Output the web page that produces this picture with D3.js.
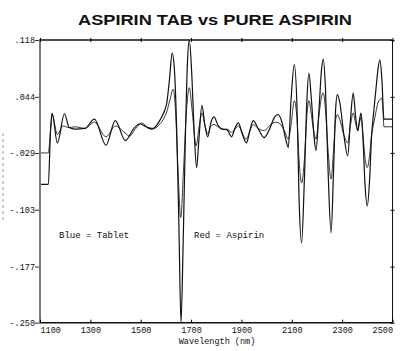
<!DOCTYPE html>
<meta charset="utf-8">
<script src="https://d3js.org/d3.v7.min.js"></script>
<style>
  body { margin: 0; background: #fff; }
  text { fill: #111; }
</style>
<div id="chart"></div>
<script>

  // wavelength (nm) and second-derivative values
  const aspirinNm = [1100, 1133, 1142, 1148, 1169, 1197, 1216, 1239, 1279, 1316, 1362, 1399, 1439, 1473,
    1497, 1521, 1545, 1561, 1577, 1592, 1603, 1614, 1625, 1634, 1644, 1652, 1660, 1668, 1678, 1686, 1693,
    1702, 1712, 1722, 1731, 1743, 1755, 1766, 1779, 1791, 1807, 1823, 1843, 1861, 1874, 1888, 1902, 1920,
    1934, 1947, 1966, 1990, 2013, 2029, 2045, 2061, 2075, 2086, 2097, 2110, 2121, 2129, 2139, 2150, 2160,
    2168, 2178, 2188, 2196, 2208, 2218, 2225, 2234, 2244, 2256, 2266, 2274, 2281, 2291, 2307, 2322, 2333,
    2344, 2353, 2362, 2369, 2375, 2383, 2391, 2400, 2409, 2417, 2424, 2434, 2442, 2450, 2458, 2466, 2500];
  const aspirinVal = [-0.070, -0.070, 0.001, 0.023, -0.016, 0.022, 0.004, 0.002, 0.003, 0.015, -0.019, 0.013,
    -0.013, 0.003, 0.009, 0.005, 0.002, 0.006, 0.014, 0.024, 0.035, 0.066, 0.101, 0.079, -0.012, -0.129,
    -0.250, -0.155, 0.001, 0.092, 0.118, 0.079, 0.001, -0.048, -0.012, 0.033, 0.007, -0.008, 0.011, 0.018,
    0.007, 0.002, 0.001, -0.008, 0.003, 0.010, -0.003, -0.016, 0.001, 0.013, 0.003, -0.009, 0.003, 0.016,
    0.021, 0.011, -0.010, -0.022, 0.040, 0.086, 0.027, -0.090, -0.146, -0.064, 0.040, 0.075, 0.040, -0.006,
    -0.026, 0.027, 0.079, 0.093, 0.053, -0.051, -0.133, -0.051, 0.027, 0.047, 0.036, -0.006, -0.033, 0.014,
    0.049, 0.020, 0.000, 0.014, 0.023, -0.012, -0.071, -0.098, -0.064, -0.006, 0.020, 0.053, 0.079, 0.092,
    0.066, 0.015, 0.015];

  const tabletNm = [1100, 1133, 1142, 1148, 1169, 1191, 1215, 1239, 1279, 1316, 1362, 1399, 1438, 1455,
    1481, 1505, 1529, 1553, 1577, 1592, 1603, 1616, 1629, 1638, 1648, 1659, 1670, 1682, 1693, 1704, 1720,
    1731, 1743, 1755, 1766, 1779, 1791, 1807, 1823, 1843, 1861, 1888, 1918, 1947, 1966, 1991, 2013, 2037,
    2053, 2073, 2086, 2097, 2110, 2121, 2129, 2139, 2150, 2160, 2168, 2178, 2188, 2196, 2208, 2218, 2225,
    2234, 2244, 2256, 2266, 2274, 2281, 2291, 2307, 2322, 2333, 2344, 2353, 2362, 2369, 2375, 2383, 2391,
    2400, 2409, 2417, 2424, 2434, 2442, 2457, 2462, 2466, 2500];
  const tabletVal = [-0.029, -0.029, 0.001, 0.021, -0.005, 0.006, 0.004, 0.005, 0.003, 0.011, -0.008, 0.006,
    -0.003, -0.007, 0.003, 0.010, 0.004, 0.003, 0.009, 0.016, 0.024, 0.040, 0.054, 0.027, -0.051, -0.113,
    -0.051, 0.027, 0.056, 0.027, -0.020, 0.003, 0.023, 0.007, -0.004, 0.006, 0.008, 0.005, 0.002, 0.002,
    -0.002, 0.006, -0.011, 0.008, 0.003, 0.000, 0.007, 0.011, 0.009, -0.002, -0.011, 0.007, 0.039, 0.014,
    -0.038, -0.068, -0.038, 0.020, 0.039, 0.020, -0.002, -0.011, 0.020, 0.044, 0.049, 0.027, -0.025, -0.063,
    -0.025, 0.014, 0.021, 0.014, -0.006, -0.016, 0.007, 0.023, 0.010, 0.000, 0.011, 0.017, -0.006, -0.036,
    -0.048, -0.032, -0.006, 0.007, 0.024, 0.036, 0.042, 0.027, 0.005, 0.005];

  const xTicks = [1100, 1300, 1500, 1700, 1900, 2100, 2300, 2500];
  const yTicks = [0.118, 0.044, -0.029, -0.103, -0.177, -0.250];
  const yTickLabels = [".118", ".044", "-.029", "-.103", "-.177", "-.250"];

  const W = 407, H = 351;
  const plotL = 40, plotR = 392.5, plotT = 40, plotB = 322.7;
  const mono = "'Liberation Mono', 'DejaVu Sans Mono', monospace";

  const svg = d3.select("#chart").append("svg")
    .attr("width", W).attr("height", H);

  const x = d3.scaleLinear().domain([1100, 2500]).range([plotL, plotR]);
  const y = d3.scaleLinear().domain([-0.250, 0.118]).range([plotB, plotT]);

  // title (wide plotter lettering, so stretch it to the measured width)
  svg.append("text")
    .attr("x", 78).attr("y", 25)
    .attr("textLength", 274)
    .attr("lengthAdjust", "spacingAndGlyphs")
    .style("font-family", "'Liberation Sans', Arial, sans-serif")
    .style("font-weight", "bold")
    .style("font-size", "14.5px")
    .text("ASPIRIN TAB vs PURE ASPIRIN");

  // stray dashed mark at far left of the scan
  svg.append("line")
    .attr("x1", 3).attr("x2", 3).attr("y1", 133).attr("y2", 223)
    .attr("stroke", "#999").attr("stroke-dasharray", "3,3");

  // the two spectra
  const line = d3.line()
    .x(d => x(d[0]))
    .y(d => y(d[1]))
    .curve(d3.curveMonotoneX);

  svg.append("path")
    .datum(d3.zip(tabletNm, tabletVal))
    .attr("d", line)
    .attr("fill", "none")
    .attr("stroke", "#222")
    .attr("stroke-width", 0.9);

  svg.append("path")
    .datum(d3.zip(aspirinNm, aspirinVal))
    .attr("d", line)
    .attr("fill", "none")
    .attr("stroke", "#111")
    .attr("stroke-width", 1.2);

  // frame
  svg.append("line").attr("x1", plotL).attr("x2", plotR).attr("y1", plotT).attr("y2", plotT)
    .attr("stroke", "#111").attr("stroke-width", 1.5);
  svg.append("line").attr("x1", plotL).attr("x2", plotR).attr("y1", plotB).attr("y2", plotB)
    .attr("stroke", "#111").attr("stroke-width", 1.5);
  svg.append("line").attr("x1", plotR).attr("x2", plotR).attr("y1", plotT).attr("y2", plotB)
    .attr("stroke", "#111").attr("stroke-width", 1);
  svg.append("line").attr("x1", plotL).attr("x2", plotL).attr("y1", plotT - 1).attr("y2", plotB + 1)
    .attr("stroke", "#7a7a7a").attr("stroke-width", 2);

  // left axis with labels
  const yAxis = svg.append("g")
    .attr("transform", `translate(${plotL - 1},0)`)
    .call(d3.axisLeft(y).tickValues(yTicks).tickSize(4)
      .tickFormat((d, i) => yTickLabels[i]));
  yAxis.select(".domain").remove();
  yAxis.selectAll(".tick line").attr("stroke", "#333");
  yAxis.selectAll("text")
    .attr("x", -4)
    .style("font-family", mono).style("font-size", "8.5px");

  // right axis ticks (cross the frame)
  const yRight = svg.append("g")
    .attr("transform", `translate(${plotR},0)`)
    .call(d3.axisRight(y).tickValues(yTicks).tickSize(2).tickFormat(""));
  yRight.select(".domain").remove();
  yRight.selectAll(".tick line").attr("x1", -2);

  // top ticks
  const xTop = svg.append("g")
    .attr("transform", `translate(0,${plotT})`)
    .call(d3.axisTop(x).tickValues(xTicks).tickSize(2).tickFormat(""));
  xTop.select(".domain").remove();
  xTop.selectAll(".tick line").attr("y1", 2);

  // bottom axis with labels
  const xAxis = svg.append("g")
    .attr("transform", `translate(0,${plotB})`)
    .call(d3.axisBottom(x).tickValues(xTicks).tickSize(-3).tickFormat(d3.format("d")));
  xAxis.select(".domain").remove();
  xAxis.selectAll("text")
    .attr("y", 4)
    .style("font-family", mono).style("font-size", "8.5px")
    .attr("text-anchor", (d, i) => i === 0 ? "start" : (i === xTicks.length - 1 ? "end" : "middle"));

  svg.append("text")
    .attr("x", 217).attr("y", 344)
    .attr("text-anchor", "middle")
    .style("font-family", mono).style("font-size", "8.5px")
    .text("Wavelength (nm)");

  // legend notes
  svg.append("text")
    .attr("x", 59).attr("y", 238)
    .style("font-family", mono).style("font-size", "9px")
    .text("Blue = Tablet");
  svg.append("text")
    .attr("x", 194).attr("y", 238)
    .style("font-family", mono).style("font-size", "9px")
    .text("Red = Aspirin");

</script>
